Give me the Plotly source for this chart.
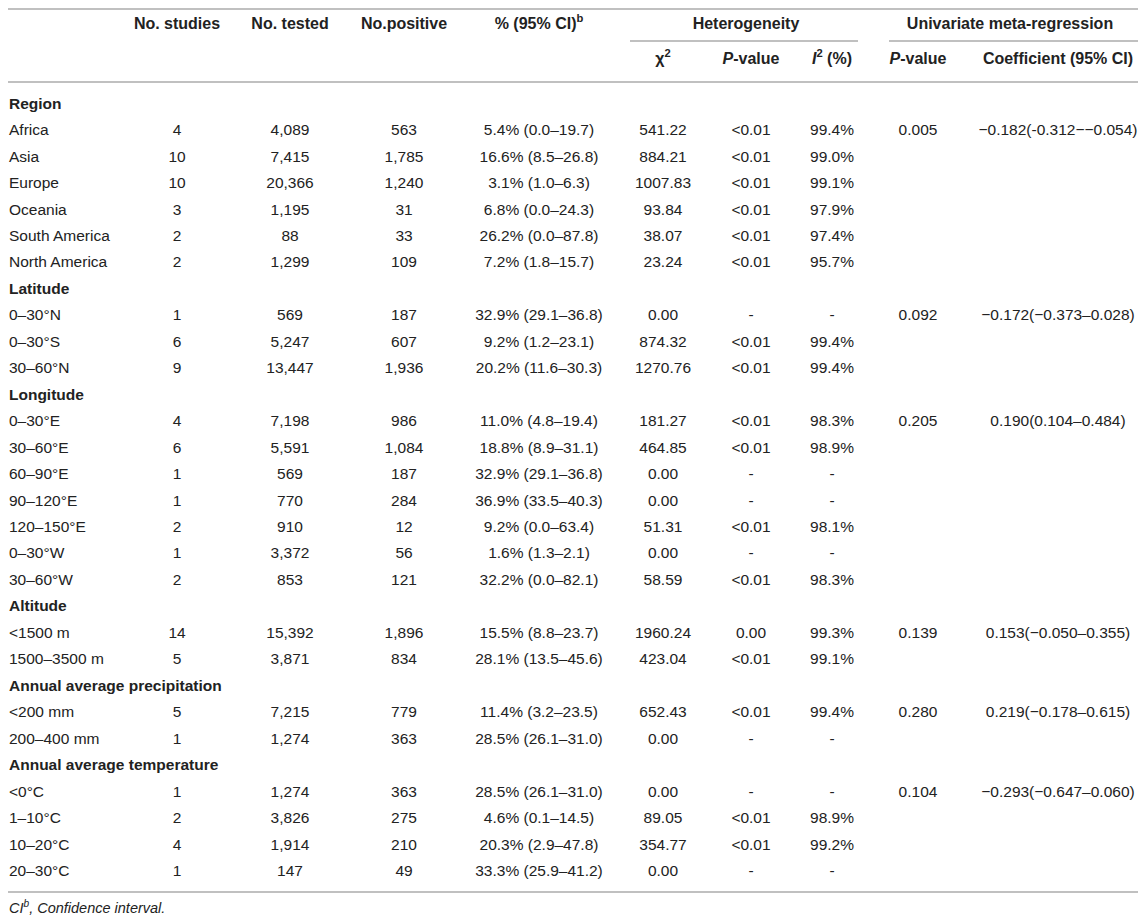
import plotly.graph_objects as go

# table content
group_names = ["Region", "Latitude", "Longitude", "Altitude",
               "Annual average precipitation", "Annual average temperature"]
group_sizes = [6, 3, 7, 2, 2, 4]
categories = ["Africa", "Asia", "Europe", "Oceania", "South America", "North America",
              "0–30°N", "0–30°S", "30–60°N",
              "0–30°E", "30–60°E", "60–90°E", "90–120°E", "120–150°E", "0–30°W", "30–60°W",
              "<1500 m", "1500–3500 m",
              "<200 mm", "200–400 mm",
              "<0°C", "1–10°C", "10–20°C", "20–30°C"]
studies = [4, 10, 10, 3, 2, 2, 1, 6, 9, 4, 6, 1, 1, 2, 1, 2, 14, 5, 5, 1, 1, 2, 4, 1]
tested = [4089, 7415, 20366, 1195, 88, 1299, 569, 5247, 13447, 7198, 5591, 569, 770, 910,
          3372, 853, 15392, 3871, 7215, 1274, 1274, 3826, 1914, 147]
positive = [563, 1785, 1240, 31, 33, 109, 187, 607, 1936, 986, 1084, 187, 284, 12,
            56, 121, 1896, 834, 779, 363, 363, 275, 210, 49]
prevalence = ["5.4% (0.0–19.7)", "16.6% (8.5–26.8)", "3.1% (1.0–6.3)", "6.8% (0.0–24.3)",
              "26.2% (0.0–87.8)", "7.2% (1.8–15.7)", "32.9% (29.1–36.8)", "9.2% (1.2–23.1)",
              "20.2% (11.6–30.3)", "11.0% (4.8–19.4)", "18.8% (8.9–31.1)", "32.9% (29.1–36.8)",
              "36.9% (33.5–40.3)", "9.2% (0.0–63.4)", "1.6% (1.3–2.1)", "32.2% (0.0–82.1)",
              "15.5% (8.8–23.7)", "28.1% (13.5–45.6)", "11.4% (3.2–23.5)", "28.5% (26.1–31.0)",
              "28.5% (26.1–31.0)", "4.6% (0.1–14.5)", "20.3% (2.9–47.8)", "33.3% (25.9–41.2)"]
chi2 = [541.22, 884.21, 1007.83, 93.84, 38.07, 23.24, 0.00, 874.32, 1270.76, 181.27,
        464.85, 0.00, 0.00, 51.31, 0.00, 58.59, 1960.24, 423.04, 652.43, 0.00,
        0.00, 89.05, 354.77, 0.00]
het_p = ["<0.01", "<0.01", "<0.01", "<0.01", "<0.01", "<0.01", "-", "<0.01", "<0.01",
         "<0.01", "<0.01", "-", "-", "<0.01", "-", "<0.01", "0.00", "<0.01", "<0.01", "-",
         "-", "<0.01", "<0.01", "-"]
i2 = ["99.4%", "99.0%", "99.1%", "97.9%", "97.4%", "95.7%", "-", "99.4%", "99.4%",
      "98.3%", "98.9%", "-", "-", "98.1%", "-", "98.3%", "99.3%", "99.1%", "99.4%", "-",
      "-", "98.9%", "99.2%", "-"]
meta_p = ["0.005", "0.092", "0.205", "0.139", "0.280", "0.104"]
meta_coef = ["−0.182(-0.312−−0.054)", "−0.172(−0.373–0.028)", "0.190(0.104–0.484)",
             "0.153(−0.050–0.355)", "0.219(−0.178–0.615)", "−0.293(−0.647–0.060)"]

W, H = 1146, 922
PAD = 8  # page body margin, so axis units line up with window pixels
FONT = "Liberation Sans, Arial, Helvetica, sans-serif"
INK = "#222222"
RULE = "#ababab"
FS = 15.5
FS_HEAD = 16
row0, step = 104.8, 26.46
LX = PAD + 1  # left edge of the label column

# column centres (px)
cx = dict(studies=177, tested=290, positive=404, prev=539, chi2=663,
          hetp=751, i2=832, metap=918, coef=1058)

# work out which row each thing sits on
head_y, data_y, meta_y = [], [], []
r = 0
for n in group_sizes:
    head_y.append(row0 + r * step)
    r += 1
    meta_y.append(row0 + r * step)
    for _ in range(n):
        data_y.append(row0 + r * step)
        r += 1

fig = go.Figure()


def col(x, y, txt, pos="middle center", size=FS):
    fig.add_trace(go.Scatter(
        x=[x] * len(y), y=y, text=txt, mode="text", textposition=pos,
        textfont=dict(family=FONT, size=size, color=INK), cliponaxis=False,
        hoverinfo="skip", showlegend=False))


col(LX, head_y, ["<b>%s</b>" % g for g in group_names], "middle right")
col(LX, data_y, categories, "middle right")
col(cx["studies"], data_y, [str(v) for v in studies])
col(cx["tested"], data_y, [f"{v:,}" for v in tested])
col(cx["positive"], data_y, [f"{v:,}" for v in positive])
col(cx["prev"], data_y, prevalence)
col(cx["chi2"], data_y, [f"{v:.2f}" for v in chi2])
col(cx["hetp"], data_y, het_p)
col(cx["i2"], data_y, i2)
col(cx["metap"], meta_y, meta_p)
col(cx["coef"], meta_y, meta_coef)

# header rows
hdr1 = [(cx["studies"], "No. studies"), (cx["tested"], "No. tested"),
        (cx["positive"], "No.positive"), (cx["prev"], "% (95% CI)<sup>b</sup>"),
        (746, "Heterogeneity"), (1010, "Univariate meta-regression")]
hdr2 = [(cx["chi2"], "χ<sup>2</sup>"), (cx["hetp"], "<i>P</i>-value"),
        (cx["i2"], "<i>I</i><sup>2</sup> (%)"), (cx["metap"], "<i>P</i>-value"),
        (cx["coef"], "Coefficient (95% CI)")]
for y, hdr in ((25, hdr1), (60, hdr2)):
    fig.add_trace(go.Scatter(
        x=[h[0] for h in hdr], y=[y] * len(hdr), text=["<b>%s</b>" % h[1] for h in hdr],
        mode="text", textposition="middle center", cliponaxis=False,
        textfont=dict(family=FONT, size=FS_HEAD, color=INK),
        hoverinfo="skip", showlegend=False))

# footnote
col(LX, [909], ["<i>CI<sup>b</sup>, Confidence interval.</i>"], "middle right", 14.5)

# rules
rules = [(PAD, W, PAD + 1), (630, 858, 41), (889, W, 41), (PAD, W, 82), (PAD, W, 892)]
for x0, x1, y in rules:
    fig.add_shape(type="line", x0=x0, x1=x1, y0=y, y1=y, xref="x", yref="y",
                  line=dict(color=RULE, width=1.6))

fig.update_layout(
    width=W - PAD, height=H - PAD, margin=dict(l=0, r=0, t=0, b=0),
    paper_bgcolor="white", plot_bgcolor="white",
    xaxis=dict(range=[PAD, W], visible=False, fixedrange=True),
    yaxis=dict(range=[H, PAD], visible=False, fixedrange=True),
)

fig.write_html("out.html")
